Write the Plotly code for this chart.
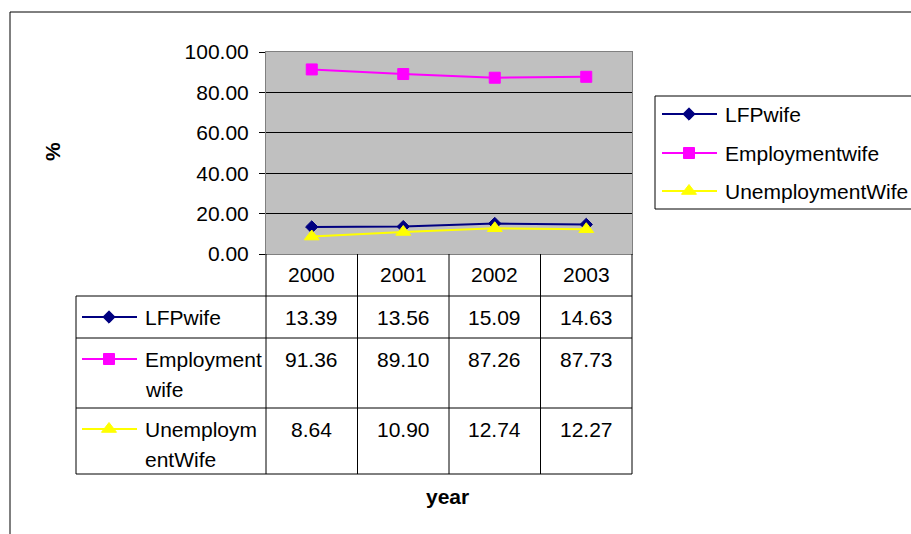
import plotly.graph_objects as go

# ---- data -------------------------------------------------------------
years = ["2000", "2001", "2002", "2003"]
series_names = ["LFPwife", "Employmentwife", "UnemploymentWife"]
table_label_lines = [["LFPwife"], ["Employment", "wife"], ["Unemploym", "entWife"]]
lfp_wife = [13.39, 13.56, 15.09, 14.63]
employment_wife = [91.36, 89.10, 87.26, 87.73]
unemployment_wife = [8.64, 10.90, 12.74, 12.27]
y_ticks = [0, 20, 40, 60, 80, 100]
value_fmt = "{:.2f}"

series_values = [lfp_wife, employment_wife, unemployment_wife]

# ---- styling ----------------------------------------------------------
W, H = 911, 534
FONT = "Liberation Sans, Arial, sans-serif"
FS = 21
styles = [
    dict(color="#000080", symbol="diamond", size=9.5),
    dict(color="#FF00FF", symbol="square", size=11),
    dict(color="#FFFF00", symbol="triangle-up", size=13),
]

# plot area (pixels)
PL, PR, PT, PB = 266, 632, 52, 254
# data table geometry (pixels)
TBL_L = 76
HEAD_B = 296
ROW_TOPS = [296, 338, 408]
TBL_B = 474
KEY_X0, KEY_X1, KEY_MX, KEY_TX = 82, 137, 109, 143
# legend geometry (pixels)
LEG_L, LEG_T, LEG_B = 655, 96, 209
LEG_ROWS = [114, 153, 191]
LEG_X0, LEG_X1, LEG_MX, LEG_TX = 662, 717, 689, 723

fig = go.Figure()

# data series
for name, vals, st in zip(series_names, series_values, styles):
    fig.add_trace(go.Scatter(
        x=years, y=vals, name=name, mode="lines+markers",
        line=dict(color=st["color"], width=2),
        marker=dict(color=st["color"], symbol=st["symbol"], size=st["size"],
                    line=dict(color=st["color"], width=1)),
        showlegend=False, xaxis="x", yaxis="y",
    ))

shapes = []
annotations = []

def hline(x0, x1, y, color="black"):
    shapes.append(dict(type="line", xref="x2", yref="y2", x0=x0, x1=x1, y0=y, y1=y,
                       line=dict(color=color, width=1)))

def vline(x, y0, y1, color="black"):
    shapes.append(dict(type="line", xref="x2", yref="y2", x0=x, x1=x, y0=y0, y1=y1,
                       line=dict(color=color, width=1)))

def key(x0, x1, mx, y, st):
    shapes.append(dict(type="line", xref="x2", yref="y2", x0=x0, x1=x1, y0=y, y1=y,
                       line=dict(color=st["color"], width=2)))
    fig.add_trace(go.Scatter(
        x=[mx], y=[y], mode="markers", xaxis="x2", yaxis="y2", showlegend=False,
        cliponaxis=False, hoverinfo="skip",
        marker=dict(color=st["color"], symbol=st["symbol"], size=st["size"],
                    line=dict(color=st["color"], width=1)),
    ))

# outer chart frame
shapes.append(dict(type="rect", xref="x2", yref="y2", x0=10, x1=W + 20, y0=12, y1=H + 20,
                   line=dict(color="black", width=1), fillcolor="rgba(0,0,0,0)", layer="below"))

# gray plot background
shapes.append(dict(type="rect", xref="x domain", yref="y domain", x0=0, x1=1, y0=0, y1=1,
                   line=dict(width=0), fillcolor="#C0C0C0", layer="below"))

# data table grid
n = len(years)
col_w = (PR - PL) / n
col_edges = [PL + i * col_w for i in range(n + 1)]
for xe in col_edges:
    vline(xe, PB, TBL_B)
vline(TBL_L, HEAD_B, TBL_B)
for yr in ROW_TOPS + [TBL_B]:
    hline(TBL_L, PR, yr)

# year header row (x positions are category indices on the main axis)
for i, yv in enumerate(years):
    annotations.append(dict(x=i, xref="x", y=(PB + HEAD_B) / 2 - 1, yref="y2",
                            text=yv, showarrow=False, xanchor="center", yanchor="middle"))

# table rows: key, label lines, values
for r, (lines, vals, st) in enumerate(zip(table_label_lines, series_values, styles)):
    top = ROW_TOPS[r]
    first = top + 21
    key(KEY_X0, KEY_X1, KEY_MX, first, st)
    for k, txt in enumerate(lines):
        annotations.append(dict(x=KEY_TX, xref="x2", y=first + 30 * k, yref="y2",
                                text=txt, showarrow=False, xanchor="left", yanchor="middle"))
    for i, v in enumerate(vals):
        annotations.append(dict(x=i, xref="x", y=first, yref="y2",
                                text=value_fmt.format(v), showarrow=False,
                                xanchor="center", yanchor="middle"))

# legend box
shapes.append(dict(type="rect", xref="x2", yref="y2", x0=LEG_L, x1=W + 20, y0=LEG_T, y1=LEG_B,
                   line=dict(color="black", width=1), fillcolor="white", layer="below"))
for name, ly, st in zip(series_names, LEG_ROWS, styles):
    key(LEG_X0, LEG_X1, LEG_MX, ly, st)
    annotations.append(dict(x=LEG_TX, xref="x2", y=ly, yref="y2", text=name,
                            showarrow=False, xanchor="left", yanchor="middle"))

# axis titles
annotations.append(dict(x=52, xref="x2", y=152, yref="y2", text="<b>%</b>", textangle=-90,
                        showarrow=False, xanchor="center", yanchor="middle"))
annotations.append(dict(x=447, xref="x2", y=496, yref="y2", text="<b>year</b>",
                        showarrow=False, xanchor="center", yanchor="middle"))

fig.update_layout(
    template="none",
    width=W, height=H, autosize=False,
    margin=dict(l=0, r=0, t=0, b=0, pad=0),
    paper_bgcolor="white", plot_bgcolor="rgba(0,0,0,0)",
    font=dict(family=FONT, size=FS, color="black"),
    showlegend=False,
    xaxis=dict(domain=[PL / W, PR / W], type="category", range=[-0.5, n - 0.5],
               showgrid=False, zeroline=False, showticklabels=False, ticks="",
               showline=True, mirror=True, linecolor="#808080", linewidth=1,
               anchor="y", fixedrange=True, automargin=False),
    yaxis=dict(domain=[1 - PB / H, 1 - PT / H], range=[0, 100], tickvals=y_ticks,
               tickformat=".2f", ticks="outside", ticklen=6, tickcolor="black",
               ticklabelstandoff=6,
               showgrid=True, gridcolor="black", gridwidth=1, zeroline=False,
               showline=True, mirror=True, linecolor="#808080", linewidth=1,
               anchor="x", fixedrange=True, automargin=False),
    xaxis2=dict(domain=[0, 1], range=[0, W], visible=False, anchor="y2",
                fixedrange=True, automargin=False),
    yaxis2=dict(domain=[0, 1], range=[H, 0], visible=False, anchor="x2",
                fixedrange=True, automargin=False),
    shapes=shapes,
    annotations=annotations,
)

fig.write_html("out.html")
